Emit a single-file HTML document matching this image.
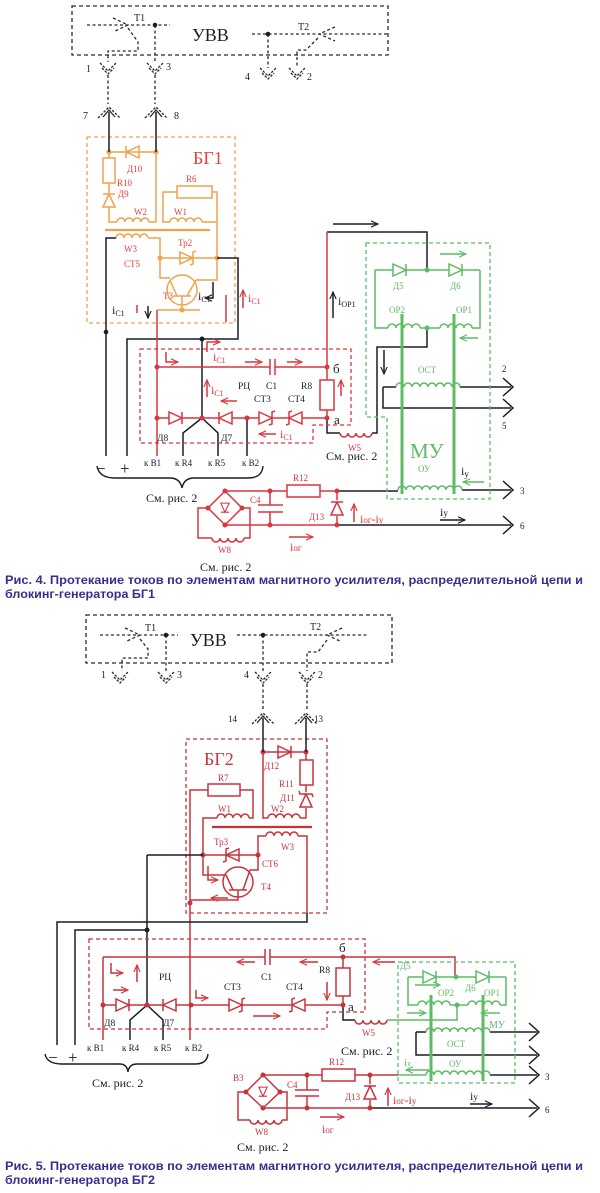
<!DOCTYPE html>
<html><head><meta charset="utf-8">
<style>
html,body{margin:0;padding:0;background:#fff;}
svg{display:block;}
text{font-family:"Liberation Serif","DejaVu Serif",serif;}
.cap{font-family:"Liberation Sans","DejaVu Sans",sans-serif;font-weight:bold;fill:#3a2d8c;font-size:12px;}
</style></head><body>
<svg width="600" height="1193" viewBox="0 0 600 1193" xmlns="http://www.w3.org/2000/svg" xmlns:xlink="http://www.w3.org/1999/xlink">
<defs>
 <path id="dR" d="M-7,-6 L-7,6 L6,0 Z M6,-6 V6"/>
 <path id="zR" d="M-7,-6 L-7,6 L6,0 Z M9,-7 L6,-6 V6 L3,7"/>
 <path id="c4" d="M0,0 a4,4 0 0 1 8,0 a4,4 0 0 1 8,0 a4,4 0 0 1 8,0 a4,4 0 0 1 8,0"/>
 <path id="c8" d="M0,0 a4,4 0 0 1 8,0 a4,4 0 0 1 8,0 a4,4 0 0 1 8,0 a4,4 0 0 1 8,0 a4,4 0 0 1 8,0 a4,4 0 0 1 8,0 a4,4 0 0 1 8,0 a4,4 0 0 1 8,0"/>
 <path id="c4d" d="M0,0 a4,4 0 0 0 8,0 a4,4 0 0 0 8,0 a4,4 0 0 0 8,0 a4,4 0 0 0 8,0"/>
 <g id="sock"><path d="M-8,0 L0,8 L8,0 M-6,5 L0,11 L6,5" stroke-dasharray="2.5,1.5"/></g>
 <g id="plug"><path d="M-6,7 L0,0 L6,7"/><path d="M-11,8 L0,-3 L11,8" stroke-dasharray="2.5,1.5"/></g>
 <path id="term" d="M-10,-9 L0,0 L-10,9"/>
 <marker id="aK" viewBox="0 0 10 10" refX="9" refY="5" markerWidth="8" markerHeight="8" orient="auto" markerUnits="userSpaceOnUse"><path d="M0,1 L9,5 L0,9" fill="none" stroke="#1c1c28" stroke-width="1.4"/></marker>
 <marker id="aR" viewBox="0 0 10 10" refX="9" refY="5" markerWidth="8" markerHeight="8" orient="auto" markerUnits="userSpaceOnUse"><path d="M0,1 L9,5 L0,9" fill="none" stroke="#d9363e" stroke-width="1.4"/></marker>
 <marker id="aG" viewBox="0 0 10 10" refX="9" refY="5" markerWidth="8" markerHeight="8" orient="auto" markerUnits="userSpaceOnUse"><path d="M0,1 L9,5 L0,9" fill="none" stroke="#5dbb63" stroke-width="1.4"/></marker>
</defs>

<!-- ================= FIGURE 4 ================= -->
<g fill="none" stroke="#2a2a2a" stroke-width="1.3">
 <rect x="72" y="6" width="316" height="49" stroke-dasharray="4,3"/>
 <path d="M87,25 H170 M113,18 L128,25 L113,32 M128,28 L138,42 V51 H108 V62 M155,25 V62" stroke-dasharray="3,2.5"/>
 <path d="M252,34 H388 M335,27 L319,34 L335,41 M318,38 L306,50 H297 V68 M268,34 V68" stroke-dasharray="3,2.5"/>
 <use href="#sock" x="108" y="63"/><use href="#sock" x="155" y="63"/>
 <use href="#sock" x="268" y="68"/><use href="#sock" x="297" y="68"/>
 <path d="M108,75 V104 M155,75 V104" stroke-dasharray="3,2.5"/>
 <use href="#plug" x="109" y="110"/><use href="#plug" x="156" y="110"/>
</g>
<circle cx="155" cy="25" r="2.3" fill="#1c1c28"/>
<circle cx="268" cy="34" r="2.3" fill="#1c1c28"/>
<g fill="#1c1c28" font-size="10">
 <text x="134" y="21">T1</text><text x="298" y="30">T2</text>
 <text x="86" y="72">1</text><text x="166" y="70">3</text>
 <text x="245" y="80">4</text><text x="307" y="80">2</text>
 <text x="83" y="119">7</text><text x="174" y="119">8</text>
</g>
<text x="192" y="41" font-size="18" fill="#1c1c28">УВВ</text>

<!-- BG1 -->
<g fill="none" stroke="#f2a24a" stroke-width="1.5">
 <rect x="87" y="137" width="148" height="186" stroke-dasharray="4,3" stroke-width="1.3"/>
 <path d="M109,152 H156 M109,152 V158 M109,183 V193 M109,207 V222 H117 M149,222 H156 V152"/>
 <use href="#dR" transform="translate(132,152) rotate(180)"/>
 <rect x="103" y="158" width="12" height="25"/>
 <use href="#dR" transform="translate(109,200) rotate(-90)"/>
 <use href="#c4" x="117" y="222"/>
 <rect x="177" y="186" width="35" height="12"/>
 <path d="M177,192 H163 V222 H170 M212,192 H217 V258 M202,222 H217"/>
 <use href="#c4" x="170" y="222"/>
 <path d="M105,230 H210" stroke-width="2.2"/>
 <use href="#c4" x="116" y="238"/>
 <path d="M148,238 H160 V278 H170 M160,258 H217 V280 H196"/>
 <use href="#zR" x="187" y="258"/>
 <circle cx="182" cy="290" r="15"/>
 <path d="M173,296 H191 M182,296 V310 M177,296 L170,280 M187,296 L196,280 M157,310 H200"/>
</g>
<g fill="#f2a24a"><circle cx="109" cy="152" r="2.5"/><circle cx="156" cy="152" r="2.5"/><circle cx="160" cy="258" r="2.5"/><circle cx="217" cy="258" r="2.5"/><circle cx="182" cy="310" r="2.5"/></g>
<g fill="#e8403a" font-size="9">
 <text x="127" y="172">Д10</text><text x="117" y="186">R10</text><text x="118" y="197">Д9</text>
 <text x="134" y="215">W2</text><text x="186" y="182">R6</text><text x="174" y="215">W1</text>
 <text x="178" y="246">Тр2</text><text x="124" y="252">W3</text><text x="124" y="267">СТ5</text>
 <text x="163" y="299">Т3</text>
</g>
<text x="193" y="164" font-size="18" fill="#e8403a">БГ1</text>

<!-- dark wires fig4 -->
<g fill="none" stroke="#1c1c28" stroke-width="1.5">
 <path d="M109,112 V152 M156,112 V152"/>
 <path d="M116,238 H106 V456"/>
 <path d="M217,258 H238 V339 H127 V456"/>
 <path d="M202,339 V418 L183,433 V456 M202,418 L218,433 V456 M247,418 V456"/>
 <path d="M327,418 V433 H340 M372,433 H377 V347 H427 V328"/>
 <path d="M327,232 H427 V270"/>
 <path d="M383,387 H396 M383,387 V408 H511 M460,387 H511"/>
 <path d="M337,491 H398 M462,490 H511 M337,525 H511"/>
 <use href="#term" x="513" y="387"/><use href="#term" x="513" y="408"/>
 <use href="#term" x="513" y="490"/><use href="#term" x="513" y="525"/>
 <path d="M333,224 H378" marker-end="url(#aK)"/>
 <path d="M333,318 V292" marker-end="url(#aK)"/>
 <path d="M384,350 V374" marker-end="url(#aK)"/>
 <path d="M440,520 H465" marker-end="url(#aK)"/>
 <path d="M148,306 V318" marker-end="url(#aK)"/>
 <path d="M213,282 V298 H205" marker-end="url(#aK)"/>
</g>
<circle cx="106" cy="332" r="2.3" fill="#1c1c28"/>
<circle cx="202" cy="339" r="2.5" fill="#1c1c28"/>

<!-- RC fig4 -->
<g fill="none" stroke="#d9363e" stroke-width="1.5">
 <path d="M140,349 H351 V425 H313 V443 H140 Z" stroke-dasharray="4,3" stroke-width="1.3"/>
 <path d="M157,310 V456 M157,367 H270 M275,367 H327 M270,359 V375 M275,359 V375"/>
 <path d="M327,367 V380 M327,410 V418 M327,367 V232"/>
 <rect x="320" y="380" width="14" height="30"/>
 <path d="M157,418 H327"/>
 <path d="M137,305 V313 M226,295 V322"/>
 <path d="M166,352 V362 H178" marker-end="url(#aR)"/>
 <path d="M207,352 V342 H220" marker-end="url(#aR)"/>
 <path d="M245,362 H262" marker-end="url(#aR)"/>
 <path d="M287,362 H302" marker-end="url(#aR)"/>
 <path d="M207,397 V380" marker-end="url(#aR)"/>
 <path d="M237,401 H221" marker-end="url(#aR)"/>
 <path d="M276,434 H259" marker-end="url(#aR)"/>
 <path d="M341,396 V380" marker-end="url(#aR)"/>
 <path d="M243,308 V290" marker-end="url(#aR)"/>
</g>
<g fill="#fff" stroke="#d9363e" stroke-width="1.5">
 <use href="#dR" x="176" y="418"/>
 <use href="#dR" transform="translate(225,418) rotate(180)"/>
 <use href="#zR" x="266" y="418"/>
 <use href="#zR" transform="translate(295,418) rotate(180)"/>
</g>
<g fill="#d9363e"><circle cx="157" cy="367" r="2.5"/><circle cx="157" cy="418" r="2.5"/><circle cx="202" cy="418" r="2.5"/><circle cx="247" cy="418" r="2.5"/><circle cx="327" cy="367" r="2.5"/><circle cx="327" cy="418" r="2.5"/></g>
<g fill="#1c1c28" font-size="9.5">
 <text x="238" y="389">РЦ</text><text x="266" y="389">С1</text><text x="301" y="389">R8</text>
 <text x="254" y="402">СТ3</text><text x="288" y="402">СТ4</text>
 <text x="157" y="441">Д8</text><text x="221" y="441">Д7</text>
 <text x="333" y="373" font-size="13">б</text><text x="334" y="424" font-size="13">а</text>
 <text x="144" y="466" font-size="9">к В1</text><text x="175" y="466" font-size="9">к R4</text>
 <text x="208" y="466" font-size="9">к R5</text><text x="242" y="466" font-size="9">к В2</text>
</g>
<g fill="#d9363e" font-size="12">
 <text x="213" y="361">i<tspan font-size="8" dy="2">C1</tspan></text>
 <text x="211" y="394">i<tspan font-size="8" dy="2">C1</tspan></text>
 <text x="280" y="438">i<tspan font-size="8" dy="2">C1</tspan></text>
 <text x="248" y="302">i<tspan font-size="8" dy="2">C1</tspan></text>
</g>
<g fill="#1c1c28" font-size="12">
 <text x="198" y="300">i<tspan font-size="8" dy="2">C1</tspan></text>
 <text x="112" y="314">i<tspan font-size="8" dy="2">C1</tspan></text>
 <text x="338" y="305">i<tspan font-size="8" dy="2">ОР1</tspan></text>
</g>
<text x="96" y="474" font-size="17" fill="#1c1c28">−</text>
<text x="120" y="474" font-size="17" fill="#1c1c28">+</text>
<path d="M97,466 Q99,478 115,478 H170 Q180,478 182,488 Q184,478 194,478 H248 Q262,478 263,466" fill="none" stroke="#1c1c28" stroke-width="1.4"/>
<text x="146" y="502" font-size="12" fill="#1c1c28">См. рис. 2</text>
<text x="326" y="460" font-size="12" fill="#1c1c28">См. рис. 2</text>

<!-- W5 fig4 -->
<g fill="none" stroke="#d9363e" stroke-width="1.5"><use href="#c4d" x="340" y="433"/></g>
<text x="348" y="451" font-size="9" fill="#d9363e">W5</text>

<!-- MU fig4 -->
<g fill="none" stroke="#5dbb63" stroke-width="1.5">
 <path d="M366,243 H490 V499 H387 V417 H366 Z" stroke-dasharray="4,3" stroke-width="1.3"/>
 <path d="M375,270 H480 M375,270 V328 H388 M420,328 H440 M472,328 H480 V270"/>
 <use href="#c4" x="388" y="328"/><use href="#c4" x="440" y="328"/>
 <use href="#c8" x="396" y="387"/>
 <use href="#c8" x="398" y="490"/>
 <path d="M402,314 V494 M454,314 V494" stroke-width="3"/>
 <path d="M440,254 H466" marker-end="url(#aG)"/>
 <path d="M478,338 H460" marker-end="url(#aG)"/>
 <path d="M484,482 H463" marker-end="url(#aG)"/>
</g>
<g fill="#fff" stroke="#5dbb63" stroke-width="1.5"><use href="#dR" x="400" y="270"/><use href="#dR" x="456" y="270"/></g>
<g fill="#5dbb63"><circle cx="427" cy="270" r="2.5"/><circle cx="427" cy="328" r="2.5"/></g>
<g fill="#5dbb63" font-size="9">
 <text x="393" y="289">Д5</text><text x="450" y="289">Д6</text>
 <text x="389" y="313">ОР2</text><text x="456" y="313">ОР1</text>
 <text x="418" y="373">ОСТ</text><text x="418" y="472">ОУ</text>
 <text x="410" y="458" font-size="21">МУ</text>
</g>
<text x="461" y="475" font-size="12" fill="#1c1c28">i<tspan font-size="9" dy="2">у</tspan></text>
<g fill="#1c1c28" font-size="9"><text x="502" y="372">2</text><text x="502" y="429">5</text><text x="520" y="494">3</text><text x="520" y="529">6</text></g>

<!-- bottom fig4 -->
<g fill="none" stroke="#d9363e" stroke-width="1.5">
 <path d="M225,491 L242,508 L225,525 L208,508 Z"/>
 <path d="M208,508 H198 V538 H212 M244,538 H250 V508 H242"/>
 <use href="#c4d" x="212" y="538"/>
 <path d="M225,491 H287 M320,491 H337 M225,525 H337"/>
 <rect x="287" y="485" width="33" height="12"/>
 <path d="M270,491 V505 M270,512 V525 M258,505 H283 M258,512 H283"/>
 <path d="M337,491 V500 M337,516 V525"/>
 <path d="M354,522 V504" marker-end="url(#aR)"/>
 <path d="M289,537 H313" marker-end="url(#aR)"/>
</g>
<g fill="#fff" stroke="#d9363e" stroke-width="1.5">
 <use href="#dR" transform="translate(225,508) rotate(90) scale(0.7)"/>
 <use href="#dR" transform="translate(337,508) rotate(-90)"/>
</g>
<g fill="#d9363e"><circle cx="225" cy="491" r="2.5"/><circle cx="242" cy="508" r="2.5"/><circle cx="225" cy="525" r="2.5"/><circle cx="208" cy="508" r="2.5"/><circle cx="270" cy="491" r="2.5"/><circle cx="270" cy="525" r="2.5"/><circle cx="337" cy="491" r="2.5"/><circle cx="337" cy="525" r="2.5"/></g>
<g fill="#d9363e" font-size="9">
 <text x="293" y="481">R12</text><text x="250" y="503">С4</text><text x="309" y="520">Д13</text><text x="218" y="553">W8</text>
</g>
<text x="360" y="523" font-size="12" fill="#d9363e">i<tspan font-size="9">ог</tspan>-i<tspan font-size="9">у</tspan></text>
<text x="290" y="551" font-size="12" fill="#d9363e">i<tspan font-size="9">ог</tspan></text>
<text x="440" y="516" font-size="12" fill="#1c1c28">i<tspan font-size="9">у</tspan></text>
<text x="200" y="571" font-size="12" fill="#1c1c28">См. рис. 2</text>

<text class="cap" x="5" y="584" textLength="578" lengthAdjust="spacingAndGlyphs">Рис. 4. Протекание токов по элементам магнитного усилителя, распределительной цепи и</text>
<text class="cap" x="5" y="598" textLength="150" lengthAdjust="spacingAndGlyphs">блокинг-генератора БГ1</text>

<!-- ================= FIGURE 5 ================= -->
<g fill="none" stroke="#2a2a2a" stroke-width="1.3">
 <rect x="86" y="615" width="306" height="48" stroke-dasharray="4,3"/>
 <path d="M100,635 H178 M125,628 L140,635 L125,642 M140,639 L148,649 V658 H122 V671 M166,635 V671" stroke-dasharray="3,2.5"/>
 <path d="M237,635 H367 M342,628 L327,635 L342,642 M327,640 L318,652 H307 V671 M263,635 V671" stroke-dasharray="3,2.5"/>
 <use href="#sock" x="120" y="672"/><use href="#sock" x="166" y="672"/>
 <use href="#sock" x="263" y="672"/><use href="#sock" x="307" y="672"/>
 <path d="M263,684 V710 M307,684 V710" stroke-dasharray="3,2.5"/>
 <use href="#plug" x="263" y="716"/><use href="#plug" x="306" y="716"/>
</g>
<circle cx="166" cy="635" r="2.3" fill="#1c1c28"/>
<circle cx="263" cy="635" r="2.3" fill="#1c1c28"/>
<g fill="#1c1c28" font-size="10">
 <text x="145" y="631">T1</text><text x="310" y="630">T2</text>
 <text x="101" y="678">1</text><text x="177" y="678">3</text>
 <text x="244" y="678">4</text><text x="318" y="678">2</text>
 <text x="228" y="722" font-size="9">14</text><text x="314" y="722" font-size="9">13</text>
</g>
<text x="190" y="646" font-size="18" fill="#1c1c28">УВВ</text>

<!-- BG2 -->
<g fill="none" stroke="#c8333a" stroke-width="1.5">
 <rect x="186" y="739" width="141" height="174" stroke-dasharray="4,3" stroke-width="1.3"/>
 <path d="M263,752 H306 V760 M306,785 V792 M306,808 V818 H300 M268,818 H263 V752"/>
 <use href="#dR" x="285" y="752"/>
 <rect x="300" y="760" width="13" height="25"/>
 <use href="#zR" transform="translate(306,800) rotate(-90)"/>
 <use href="#c4" x="268" y="818"/>
 <rect x="208" y="784" width="32" height="12"/>
 <path d="M208,790 H190 V1040 M240,790 H253 V818 H249 M217,818 H203 V875 H226"/>
 <use href="#c4" x="217" y="818"/>
 <path d="M212,827 H312" stroke-width="2.2"/>
 <use href="#c4" x="266" y="836"/>
 <path d="M266,836 H258 V870 H250 M298,836 H307 V913"/>
 <path d="M203,855 H258"/>
 <use href="#zR" transform="translate(232,855) rotate(180)"/>
 <circle cx="238" cy="882" r="15"/>
 <path d="M229,890 H247 M238,890 V900 H190 M233,890 L226,875 M243,890 L250,870"/>
 <path d="M208,866 V880 H218" marker-end="url(#aR)"/>
 <path d="M228,898 H211" marker-end="url(#aR)"/>
</g>
<g fill="#c8333a"><circle cx="263" cy="752" r="2.5"/><circle cx="306" cy="752" r="2.5"/><circle cx="203" cy="855" r="2.5"/><circle cx="258" cy="855" r="2.5"/><circle cx="190" cy="903" r="2.5"/></g>
<g fill="#c8333a" font-size="9">
 <text x="264" y="769">Д12</text><text x="279" y="787">R11</text><text x="280" y="801">Д11</text>
 <text x="218" y="781">R7</text><text x="218" y="812">W1</text><text x="271" y="812">W2</text>
 <text x="281" y="850">W3</text><text x="214" y="845">Тр3</text><text x="262" y="867">СТ6</text>
 <text x="261" y="890">Т4</text>
</g>
<text x="204" y="765" font-size="18" fill="#c8333a">БГ2</text>

<!-- dark wires fig5 -->
<g fill="none" stroke="#1c1c28" stroke-width="1.5">
 <path d="M263,718 V752 M306,718 V752"/>
 <path d="M57,1045 V922 H307 V913"/>
 <path d="M75,1045 V930 H147 M147,855 H203 M147,855 V1005 L130,1020 V1040 M147,1005 L163,1020 V1040"/>
 <path d="M343,1005 V1020 H355"/>
 <path d="M416,1032 H426 M416,1032 V1055 H537 M490,1032 H537 M490,1075 H537 M370,1108 H537"/>
 <use href="#term" x="539" y="1032"/><use href="#term" x="539" y="1055"/>
 <use href="#term" x="539" y="1075"/><use href="#term" x="539" y="1108"/>
 <path d="M470,1104 H492" marker-end="url(#aK)"/>
</g>
<circle cx="147" cy="930" r="2.5" fill="#1c1c28"/>

<!-- RC fig5 -->
<g fill="none" stroke="#c8333a" stroke-width="1.5">
 <path d="M89,939 H365 V1012 H327 V1029 H89 Z" stroke-dasharray="4,3" stroke-width="1.3"/>
 <path d="M103,957 V1040 M103,957 H265 M270,957 H455 V977 M265,949 V965 M270,949 V965"/>
 <path d="M343,957 V968 M343,996 V1005 M103,1005 H343"/>
 <rect x="336" y="968" width="14" height="28"/>
 <path d="M111,963 V973 H123" marker-end="url(#aR)"/>
 <path d="M137,982 V965" marker-end="url(#aR)"/>
 <path d="M113,990 H128" marker-end="url(#aR)"/>
 <path d="M196,990 V998 H208" marker-end="url(#aR)"/>
 <path d="M255,962 H237" marker-end="url(#aR)"/>
 <path d="M318,962 H300" marker-end="url(#aR)"/>
 <path d="M395,962 H373" marker-end="url(#aR)"/>
 <path d="M327,982 V1000" marker-end="url(#aR)"/>
 <path d="M253,1016 H280" marker-end="url(#aR)"/>
</g>
<g fill="#fff" stroke="#c8333a" stroke-width="1.5">
 <use href="#dR" x="123" y="1005"/>
 <use href="#dR" transform="translate(169,1005) rotate(180)"/>
 <use href="#zR" x="236" y="1005"/>
 <use href="#zR" transform="translate(298,1005) rotate(180)"/>
</g>
<g fill="#c8333a"><circle cx="103" cy="1005" r="2.5"/><circle cx="147" cy="1005" r="2.5"/><circle cx="191" cy="1005" r="2.5"/><circle cx="343" cy="957" r="2.5"/><circle cx="343" cy="1005" r="2.5"/></g>
<g fill="#1c1c28" font-size="9.5">
 <text x="159" y="980">РЦ</text><text x="261" y="980">С1</text><text x="319" y="973">R8</text>
 <text x="224" y="990">СТ3</text><text x="286" y="990">СТ4</text>
 <text x="104" y="1026">Д8</text><text x="163" y="1026">Д7</text>
 <text x="339" y="952" font-size="13">б</text><text x="348" y="1011" font-size="13">а</text>
 <text x="87" y="1051" font-size="9">к В1</text><text x="122" y="1051" font-size="9">к R4</text>
 <text x="154" y="1051" font-size="9">к R5</text><text x="185" y="1051" font-size="9">к В2</text>
</g>
<text x="48" y="1063" font-size="17" fill="#1c1c28">−</text>
<text x="68" y="1063" font-size="17" fill="#1c1c28">+</text>
<path d="M45,1054 Q47,1064 62,1064 H120 Q127,1064 128,1072 Q129,1064 137,1064 H195 Q207,1064 208,1054" fill="none" stroke="#1c1c28" stroke-width="1.4"/>
<text x="92" y="1087" font-size="12" fill="#1c1c28">См. рис. 2</text>
<text x="341" y="1055" font-size="12" fill="#1c1c28">См. рис. 2</text>

<!-- W5 fig5 -->
<g fill="none" stroke="#c8333a" stroke-width="1.5"><use href="#c4d" x="355" y="1020"/></g>
<text x="362" y="1036" font-size="9" fill="#c8333a">W5</text>

<!-- MU fig5 -->
<g fill="none" stroke="#5dbb63" stroke-width="1.5">
 <path d="M398,962 H515 V1083 H398 Z" stroke-dasharray="4,3" stroke-width="1.3"/>
 <path d="M387,1020 H457 V1005"/>
 <path d="M408,977 H506 M408,977 V1005 H418 M450,1005 H468 M500,1005 H506 V977"/>
 <use href="#c4" x="418" y="1005"/><use href="#c4" x="468" y="1005"/>
 <use href="#c8" x="426" y="1032"/>
 <use href="#c8" x="426" y="1075"/>
 <path d="M398,1075 H426"/>
 <path d="M431,995 V1081 M483,995 V1081" stroke-width="3"/>
 <path d="M415,985 H440" marker-end="url(#aG)"/>
 <path d="M407,1013 H426" marker-end="url(#aG)"/>
 <path d="M500,1013 H481" marker-end="url(#aG)"/>
 <path d="M429,1070 H406" marker-end="url(#aG)"/>
</g>
<g fill="#fff" stroke="#5dbb63" stroke-width="1.5"><use href="#dR" x="430" y="977"/><use href="#dR" x="483" y="977"/></g>
<g fill="#5dbb63"><circle cx="456" cy="977" r="2.5"/><circle cx="457" cy="1005" r="2.5"/></g>
<g fill="#5dbb63" font-size="9">
 <text x="400" y="969">Д5</text><text x="465" y="991">Д6</text>
 <text x="438" y="996">ОР2</text><text x="484" y="996">ОР1</text>
 <text x="447" y="1047">ОСТ</text><text x="449" y="1067">ОУ</text>
 <text x="489" y="1028" font-size="10">МУ</text>
 <text x="404" y="1066" font-size="11">i<tspan font-size="8">у</tspan></text>
</g>
<g fill="#1c1c28" font-size="9"><text x="545" y="1080">3</text><text x="545" y="1113">6</text></g>

<!-- bottom fig5 -->
<g fill="none" stroke="#c8333a" stroke-width="1.5">
 <path d="M263,1075 L280,1092 L263,1108 L246,1092 Z"/>
 <path d="M246,1092 H238 V1120 H250 M282,1120 H287 V1092 H280"/>
 <use href="#c4d" x="250" y="1120"/>
 <path d="M263,1075 H322 M355,1075 H398 M263,1108 H370"/>
 <rect x="322" y="1069" width="33" height="12"/>
 <path d="M307,1075 V1090 M307,1096 V1108 M295,1090 H319 M295,1096 H319"/>
 <path d="M370,1075 V1084 M370,1100 V1108"/>
 <path d="M388,1106 V1088" marker-end="url(#aR)"/>
 <path d="M320,1117 H344" marker-end="url(#aR)"/>
</g>
<g fill="#fff" stroke="#c8333a" stroke-width="1.5">
 <use href="#dR" transform="translate(263,1092) rotate(90) scale(0.7)"/>
 <use href="#dR" transform="translate(370,1092) rotate(-90)"/>
</g>
<g fill="#c8333a"><circle cx="263" cy="1075" r="2.5"/><circle cx="280" cy="1092" r="2.5"/><circle cx="263" cy="1108" r="2.5"/><circle cx="246" cy="1092" r="2.5"/><circle cx="307" cy="1075" r="2.5"/><circle cx="307" cy="1108" r="2.5"/><circle cx="370" cy="1075" r="2.5"/><circle cx="370" cy="1108" r="2.5"/></g>
<g fill="#c8333a" font-size="9">
 <text x="233" y="1081">В3</text><text x="287" y="1088">С4</text><text x="329" y="1065">R12</text>
 <text x="345" y="1100">Д13</text><text x="255" y="1135">W8</text>
</g>
<text x="393" y="1104" font-size="12" fill="#c8333a">i<tspan font-size="9">ог</tspan>-i<tspan font-size="9">у</tspan></text>
<text x="322" y="1133" font-size="12" fill="#c8333a">i<tspan font-size="9">ог</tspan></text>
<text x="470" y="1100" font-size="12" fill="#1c1c28">i<tspan font-size="9">у</tspan></text>
<text x="237" y="1151" font-size="12" fill="#1c1c28">См. рис. 2</text>

<text class="cap" x="5" y="1170" textLength="578" lengthAdjust="spacingAndGlyphs">Рис. 5. Протекание токов по элементам магнитного усилителя, распределительной цепи и</text>
<text class="cap" x="5" y="1184" textLength="150" lengthAdjust="spacingAndGlyphs">блокинг-генератора БГ2</text>
</svg>
</body></html>
